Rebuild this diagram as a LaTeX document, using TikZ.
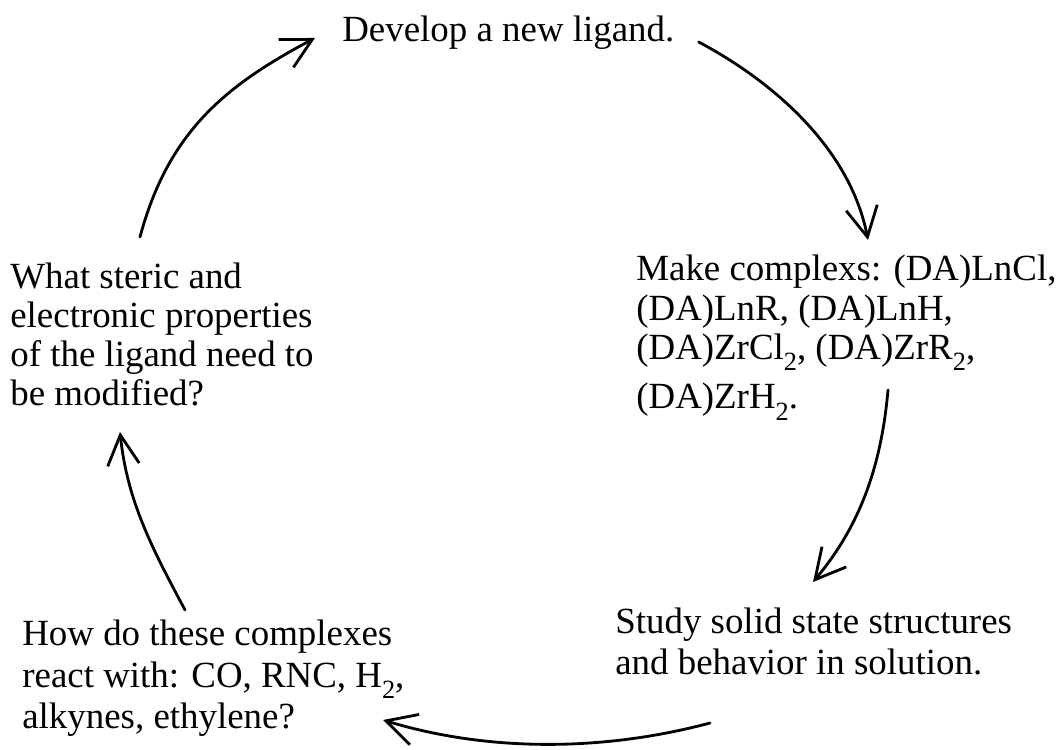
\documentclass[tikz,border=0pt]{standalone}
\usepackage{fontspec}
\setmainfont{Liberation Serif}
\usetikzlibrary{arrows.meta}
\newcommand\idx[1]{\raisebox{-0.3em}{\fontsize{15pt}{15pt}\selectfont #1}}
\tikzset{
  stage/.style={inner sep=0pt, anchor=base west, align=left,
    font=\fontsize{21pt}{22.3pt}\selectfont},
  loose/.style={font=\fontsize{21pt}{23.8pt}\selectfont},
  cyc/.style={-{Straight Barb[length=17pt,width=18pt]}, line width=1.6pt,
    line cap=round, line join=round}
}
\begin{document}
\begin{tikzpicture}[x=0.02cm,y=0.02cm]
      \useasboundingbox (0,0) rectangle (1059,750);
      \path
        (342,708) node[stage] (dev){Develop a new ligand.}
        (636,341) node[stage] (make){Make complexs: (DA)LnCl,\\
          (DA)LnR, (DA)LnH,\\
          (DA)ZrCl\idx{2}, (DA)ZrR\idx{2},\\[6pt]
          (DA)ZrH\idx{2}.}
        (615,75) node[stage,loose] (study){Study solid state structures\\
          and behavior in solution.}
        (22,21) node[stage,loose] (how){How do these complexes\\
          react with: CO, RNC, H\idx{2},\\
          alkynes, ethylene?}
        (10,344) node[stage] (what){What steric and\\
          electronic properties\\
          of the ligand need to\\
          be modified?};
      \begin{scope}[cyc]
        \draw ([shift={(130,169)}]what.base west) .. controls +(75:110) and +(208:100) .. ([shift={(-27,4)}]dev.base west);
        \draw ([shift={(24,0)}]dev.base east) .. controls +(-28:90) and +(101:90) .. ([shift={(232,169)}]make.base west);
        \draw ([shift={(252,19)}]make.base west) .. controls +(265:80) and +(50:70) .. ([shift={(198,93)}]study.base west);
        \draw ([shift={(95,-48)}]study.base west) .. controls +(195:110) and +(-17:110) .. ([shift={(361,9)}]how.base west);
        \draw ([shift={(163,119)}]how.base west) .. controls +(118:70) and +(-84:70) .. ([shift={(110,-26)}]what.base west);
      \end{scope}
    \end{tikzpicture}
\end{document}
